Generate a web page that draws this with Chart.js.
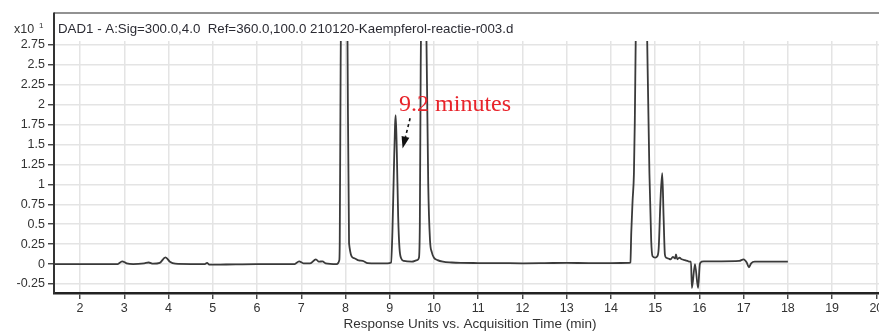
<!DOCTYPE html>
<html>
<head>
<meta charset="utf-8">
<script src="https://cdn.jsdelivr.net/npm/chart.js@4/dist/chart.umd.min.js"></script>
<style>
    body { margin: 0; background: #fff; }
    canvas { display: block; }
</style>
</head>
<body>
<canvas id="chart_DAD1" width="879" height="331"></canvas>
<script>
// ****************************************************************** //
// chart_DAD1 --- DAD1 chromatogram, Kaempferol reactie r003          //
// ****************************************************************** //

// acquisition time (min)
const times = [
    1.42, 2.5, 2.85, 2.95, 3.05, 3.2, 3.45, 3.55, 3.65, 3.8, 3.93, 4.03, 4.15,
    4.5, 4.82, 4.87, 4.92, 5.3, 6.0, 6.85, 6.95, 7.05, 7.2, 7.33, 7.4, 7.48,
    7.55, 7.8, 7.86,
    // peak ~8.0
    7.87, 7.89, 7.92, 7.97, 8.02, 8.045, 8.08, 8.19, 8.3, 8.39, 8.5, 8.7, 8.95,
    // peak 9.2 (kaempferol)
    9.03, 9.06, 9.09, 9.12, 9.135, 9.16, 9.19, 9.22, 9.26, 9.32, 9.5, 9.62,
    // peak ~9.8
    9.66, 9.68, 9.7, 9.74, 9.77, 9.8, 9.83, 9.87, 9.91, 9.95, 10.0, 10.08,
    10.2, 10.4, 10.6, 11.0, 11.5, 12.0, 12.5, 13.0, 13.5, 14.0, 14.42,
    // peak ~14.7
    14.44, 14.46, 14.49, 14.52, 14.54, 14.56, 14.62, 14.69, 14.76, 14.82,
    14.87, 14.91, 14.94, 15.0, 15.05,
    // peak ~15.15
    15.08, 15.12, 15.16, 15.19, 15.22, 15.25, 15.3, 15.35, 15.4, 15.45, 15.47,
    15.5, 15.55, 15.6, 15.67, 15.73, 15.78,
    // negative dips ~16
    15.81, 15.83, 15.9, 15.97, 16.01, 16.05, 16.1, 16.5, 16.9, 17.0, 17.07,
    17.12, 17.17, 17.25, 17.6, 18.0,
];

// response (x10^1)
const signal = [
    0, 0, 0, 0.035, 0.01, 0, 0.01, 0.02, 0.005, 0.015, 0.085, 0.03, 0.005,
    0, 0, 0.015, -0.008, -0.005, 0, 0, 0.035, 0.01, 0.01, 0.06, 0.03, 0.035,
    0.01, 0, 0.05,
    0.3, 2.5, 5.0, 7.0, 5.0, 2.8, 0.26, 0.075, 0.045, 0.04, 0.012, 0.008, 0.008,
    0.02, 0.4, 1.1, 1.75, 1.87, 1.4, 0.6, 0.2, 0.07, 0.04, 0.03, 0.05,
    0.08, 0.5, 2.5, 5.0, 6.0, 5.0, 2.8, 1.0, 0.3, 0.15, 0.08, 0.05,
    0.03, 0.02, 0.015, 0.013, 0.012, 0.01, 0.012, 0.015, 0.012, 0.012, 0.015,
    0.02, 0.4, 0.8, 1.14, 1.8, 2.8, 5.0, 6.5, 5.0, 2.8,
    1.14, 0.3, 0.1, 0.08, 0.1,
    0.2, 0.8, 1.14, 0.6, 0.12, 0.08, 0.07, 0.06, 0.09, 0.07, 0.12,
    0.06, 0.08, 0.06, 0.05, 0.04, 0.03,
    0.03, -0.3, 0.0, -0.3, 0.0, 0.03, 0.035, 0.035, 0.04, 0.06, 0.02,
    -0.04, 0.01, 0.03, 0.03, 0.03,
];

const xTicks = { min: 1.41, max: 20.06, step: 1 };
const yTicks = { min: -0.363, max: 2.8, step: 0.25 };

const chartTitle = "DAD1 - A:Sig=300.0,4.0  Ref=360.0,100.0 210120-Kaempferol-reactie-r003.d";
const xTitle = "Response Units vs. Acquisition Time (min)";
const note = { text: "9.2 minutes", x: 9.21, y: 1.93, tailX: 9.46, tailY: 1.83, headX: 9.29, headY: 1.45 };

const FONT = "'Liberation Sans', Arial, sans-serif";

// frame, header texts and the red note
const framePlugin = {
    id: "frame",
    afterDraw(chart) {
        const c = chart.ctx;
        const a = chart.chartArea;
        const xs = chart.scales.x;
        const ys = chart.scales.y;
        c.save();
        // box top + left line extension
        c.strokeStyle = "#6e6e6e";
        c.lineWidth = 1.5;
        c.beginPath();
        c.moveTo(a.left, 13);
        c.lineTo(chart.width, 13);
        c.stroke();
        c.strokeStyle = "#333";
        c.lineWidth = 2;
        c.beginPath();
        c.moveTo(a.left, 12.5);
        c.lineTo(a.left, a.top);
        c.stroke();

        // header
        c.fillStyle = "#2b2b33";
        c.textBaseline = "middle";
        c.textAlign = "left";
        c.font = "13.3px " + FONT;
        c.fillText(chartTitle, 58, 29);
        c.fillStyle = "#333";
        c.font = "12.5px " + FONT;
        c.fillText("x10", 14, 30);
        c.font = "8px " + FONT;
        c.fillText("1", 39, 26);

        // x axis title
        c.font = "13.5px " + FONT;
        c.textAlign = "center";
        c.fillText(xTitle, 470, 324);

        // red note
        c.textAlign = "left";
        c.fillStyle = "#e8232a";
        c.font = "24px 'Liberation Serif', 'Times New Roman', serif";
        c.textBaseline = "alphabetic";
        c.fillText(note.text, xs.getPixelForValue(note.x), ys.getPixelForValue(note.y) + 1);

        // dashed arrow
        const tx = xs.getPixelForValue(note.tailX), ty = ys.getPixelForValue(note.tailY);
        const hx = xs.getPixelForValue(note.headX), hy = ys.getPixelForValue(note.headY);
        const ang = Math.atan2(hy - ty, hx - tx);
        const len = 12;
        const bx = hx - len * Math.cos(ang), by = hy - len * Math.sin(ang);
        c.strokeStyle = "#111";
        c.lineWidth = 1.6;
        c.setLineDash([3, 3]);
        c.beginPath();
        c.moveTo(tx, ty);
        c.lineTo(bx, by);
        c.stroke();
        c.setLineDash([]);
        c.fillStyle = "#111";
        c.beginPath();
        c.moveTo(hx, hy);
        c.lineTo(bx + 4 * Math.sin(ang), by - 4 * Math.cos(ang));
        c.lineTo(bx - 4 * Math.sin(ang), by + 4 * Math.cos(ang));
        c.closePath();
        c.fill();
        c.restore();
    },
};

const ctx = document.getElementById("chart_DAD1").getContext("2d");
const chart_DAD1 = new Chart(ctx, {
    type: "line",
    data: {
        datasets: [
            {
                label: "DAD1",
                data: times.map((t, i) => ({ x: t, y: signal[i] })),
                borderColor: "#3a3a3a",
                borderWidth: 1.8,
                pointRadius: 0,
                cubicInterpolationMode: "monotone",
                fill: false,
            },
        ],
    },
    options: {
        responsive: false,
        animation: false,
        devicePixelRatio: 1,
        layout: { padding: { top: 41, right: 0, left: 0, bottom: 0 } },
        plugins: {
            legend: { display: false },
            tooltip: { enabled: false },
        },
        scales: {
            x: {
                type: "linear",
                min: xTicks.min,
                max: xTicks.max,
                afterFit: (s) => { s.height = 38; s.paddingLeft = 0; s.paddingRight = 0; },
                ticks: {
                    stepSize: xTicks.step,
                    includeBounds: false,
                    maxRotation: 0,
                    autoSkip: false,
                    color: "#333",
                    padding: 2,
                    font: { family: FONT, size: 12.5 },
                },
                grid: {
                    color: "#e4e4e4",
                    lineWidth: 1.5,
                    tickLength: 6,
                    tickColor: "#333",
                    tickWidth: 1.3,
                },
                border: { color: "#222", width: 2.5 },
            },
            y: {
                type: "linear",
                min: yTicks.min,
                max: yTicks.max,
                afterFit: (s) => { s.width = 54; s.paddingTop = 0; s.paddingBottom = 0; },
                ticks: {
                    stepSize: yTicks.step,
                    includeBounds: false,
                    color: "#333",
                    padding: 3,
                    font: { family: FONT, size: 12.5 },
                    callback: (v) => String(+v.toFixed(2)),
                },
                grid: {
                    color: "#e4e4e4",
                    lineWidth: 1.5,
                    tickLength: 6,
                    tickColor: "#333",
                    tickWidth: 1.3,
                },
                border: { color: "#333", width: 2 },
            },
        },
    },
    plugins: [framePlugin],
});
</script>
</body>
</html>
